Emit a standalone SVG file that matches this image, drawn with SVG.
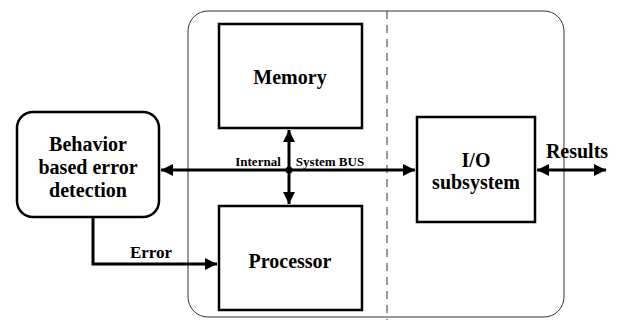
<svg xmlns="http://www.w3.org/2000/svg" width="621" height="320" viewBox="0 0 621 320">
<defs>
<style>
.box{fill:#fff;stroke:#000;stroke-width:2.5}
.ln{fill:none;stroke:#000;stroke-width:3}
</style>
<marker id="ah" viewBox="0 0 10 10" refX="10" refY="5" markerWidth="4" markerHeight="4" orient="auto-start-reverse" markerUnits="strokeWidth">
<path d="M0,0 L10,5 L0,10 Z" fill="#000"/>
</marker>
</defs>
<rect width="621" height="320" fill="#fff"/>
<g id="container">
<rect x="188" y="11" width="376" height="306" rx="20" ry="20" fill="none" stroke="#333" stroke-width="1"/>
<line x1="387" y1="11" x2="387" y2="320" stroke="#555" stroke-width="1.2" stroke-dasharray="8,6"/>
</g>
<g id="memory">
<rect class="box" x="219" y="24" width="143" height="104"/>
<text font-family="Liberation Serif" font-weight="bold" text-anchor="middle" font-size="20" x="290" y="84">Memory</text>
</g>
<g id="processor">
<rect class="box" x="219" y="206" width="143" height="104"/>
<text font-family="Liberation Serif" font-weight="bold" text-anchor="middle" font-size="20" x="290" y="268">Processor</text>
</g>
<g id="io">
<rect class="box" x="417" y="117" width="118" height="105"/>
<text font-family="Liberation Serif" font-weight="bold" text-anchor="middle" font-size="20" x="476" y="167">I/O</text>
<text font-family="Liberation Serif" font-weight="bold" text-anchor="middle" font-size="20" x="476" y="189">subsystem</text>
</g>
<g id="behavior">
<rect class="box" x="17" y="112" width="142" height="105" rx="16" ry="16"/>
<text font-family="Liberation Serif" font-weight="bold" text-anchor="middle" font-size="20" x="88" y="151">Behavior</text>
<text font-family="Liberation Serif" font-weight="bold" text-anchor="middle" font-size="20" x="88" y="174">based error</text>
<text font-family="Liberation Serif" font-weight="bold" text-anchor="middle" font-size="20" x="88" y="197">detection</text>
</g>
<g id="connectors">
<line class="ln" x1="161" y1="170" x2="415" y2="170" marker-start="url(#ah)" marker-end="url(#ah)"/>
<line class="ln" x1="289" y1="130" x2="289" y2="204" marker-start="url(#ah)" marker-end="url(#ah)"/>
<circle cx="289" cy="170" r="3.5" fill="#000"/>
<polyline class="ln" points="93,217 93,264 217,264" marker-end="url(#ah)"/>
<line class="ln" x1="537" y1="170" x2="606" y2="170" marker-start="url(#ah)" marker-end="url(#ah)"/>
<text font-family="Liberation Serif" font-weight="bold" text-anchor="middle" font-size="13" x="258" y="166">Internal</text>
<text font-family="Liberation Serif" font-weight="bold" text-anchor="middle" font-size="13" x="330" y="166">System BUS</text>
<text font-family="Liberation Serif" font-weight="bold" text-anchor="middle" font-size="17" x="151" y="258">Error</text>
<text font-family="Liberation Serif" font-weight="bold" text-anchor="middle" font-size="20" x="577" y="158">Results</text>
</g>
</svg>
